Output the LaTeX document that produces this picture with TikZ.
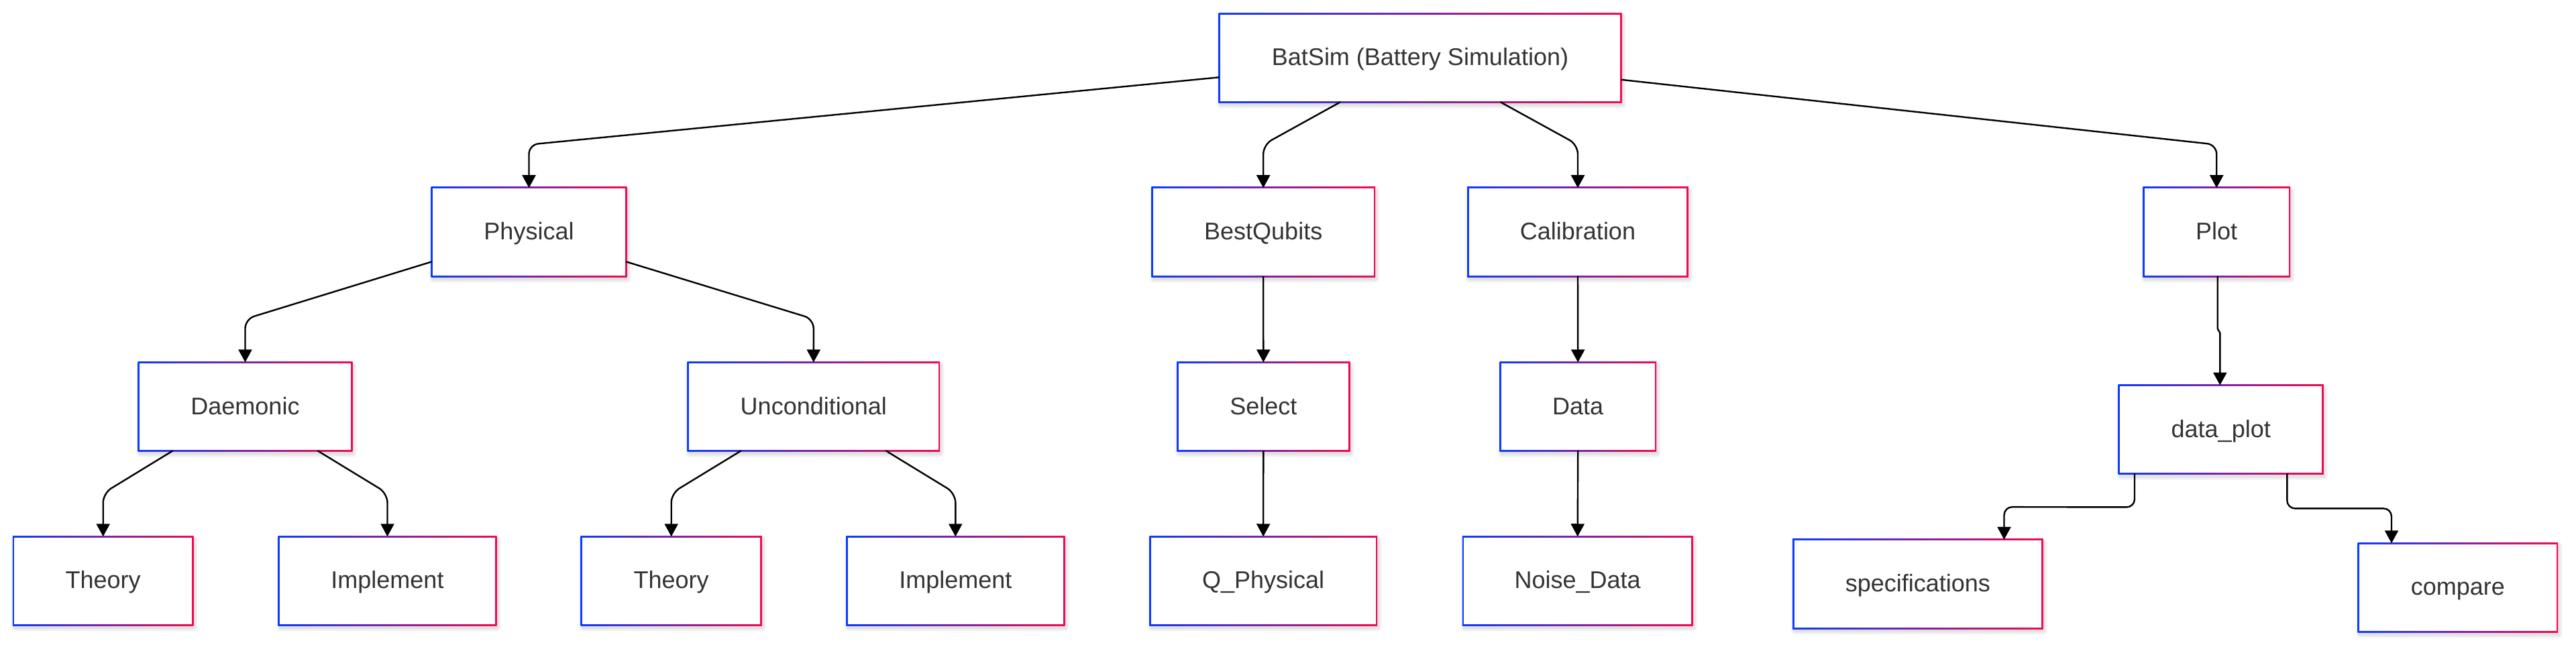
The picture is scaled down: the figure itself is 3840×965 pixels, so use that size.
\documentclass[tikz,border=0pt]{standalone}
\usepackage{fontspec}
\setmainfont{Liberation Sans}
\usetikzlibrary{arrows.meta,calc}
\definecolor{bl}{HTML}{0D3BFF}
\definecolor{rd}{HTML}{F20A50}
\definecolor{txt}{HTML}{333333}
\pgfdeclarelayer{bg}
\pgfsetlayers{bg,main}
\begin{document}
\begin{tikzpicture}[x=1pt,y=-1pt,
  box/.style={rectangle, inner sep=0pt, text=txt, font=\fontsize{36}{43}\selectfont,
    minimum height=131.5pt, text height=23.4pt, text depth=0pt},
  conn/.style={draw=black, line width=2.4pt, -{Triangle[length=19pt,width=20pt]}, rounded corners=14pt}]
\useasboundingbox (0,0) rectangle (3840,965);
% nodes
\node[box, minimum width=598pt]   (bat)  at (2117,86.3)   {BatSim (Battery Simulation)};
\node[box, minimum width=289pt]   (phy)  at (788.5,346.2) {Physical};
\node[box, minimum width=331pt]   (bq)   at (1883.2,346.2) {BestQubits};
\node[box, minimum width=327pt]   (cal)  at (2352,346.2)  {Calibration};
\node[box, minimum width=217pt]   (plot) at (3304.2,346.2) {Plot};
\node[box, minimum width=317pt]   (dae)  at (365.5,606.3) {Daemonic};
\node[box, minimum width=373.6pt] (unc)  at (1212.8,606.3) {Unconditional};
\node[box, minimum width=255pt]   (sel)  at (1883.3,606.3) {Select};
\node[box, minimum width=231pt]   (dat)  at (2352.2,606.3) {Data};
\node[box, minimum width=303.3pt] (dp)   at (3310.7,640.5) {data\_plot};
\node[box, minimum width=266.6pt] (th1)  at (153.7,866.2) {Theory};
\node[box, minimum width=323pt]   (im1)  at (577.5,866.2) {Implement};
\node[box, minimum width=267.3pt] (th2)  at (1000.7,866.2) {Theory};
\node[box, minimum width=323pt]   (im2)  at (1424.3,866.2) {Implement};
\node[box, minimum width=336.7pt] (qp)   at (1883.2,866.2) {Q\_Physical};
\node[box, minimum width=341pt]   (nd)   at (2351.7,866.2) {Noise\_Data};
\node[box, minimum width=370.5pt] (sp)   at (2858.8,870.8) {specifications};
\node[box, minimum width=295.5pt] (cmp)  at (3663.8,876.2) {compare};
% connectors
\draw[conn] (bat) -- ($(phy.north)+(0,-64.5)$) -- (phy.north);
\draw[conn] (bat) -- ($(bq.north)+(0,-64.5)$) -- (bq.north);
\draw[conn] (bat) -- ($(cal.north)+(0,-64.5)$) -- (cal.north);
\draw[conn] (bat) -- ($(plot.north)+(0,-64.5)$) -- (plot.north);
\draw[conn] (phy) -- ($(dae.north)+(0,-64.5)$) -- (dae.north);
\draw[conn] (phy) -- ($(unc.north)+(0,-64.5)$) -- (unc.north);
\draw[conn] (dae) -- ($(th1.north)+(0,-64.5)$) -- (th1.north);
\draw[conn] (dae) -- ($(im1.north)+(0,-64.5)$) -- (im1.north);
\draw[conn] (unc) -- ($(th2.north)+(0,-64.5)$) -- (th2.north);
\draw[conn] (unc) -- ($(im2.north)+(0,-64.5)$) -- (im2.north);
\draw[conn] (bq.south) -- (sel.north);
\draw[conn] (sel.south) -- (qp.north);
\draw[conn] (cal.south) -- (dat.north);
\draw[conn] (dat.south) -- (nd.north);
\draw[conn, rounded corners=2pt] ([xshift=1.5pt]plot.south) -- ($(plot.south)+(1.5,80)$) -- ($(dp.north)+(-1.4,-80)$) -- ([xshift=-1.4pt]dp.north);
\draw[conn, rounded corners=12pt] ([xshift=-128.7pt]dp.south) -- ($(dp.south)+(-128.7,50)$) -- ($(sp.north)+(128.7,-48.7)$) -- ([xshift=128.7pt]sp.north);
\draw[conn, rounded corners=12pt] ([xshift=98.6pt]dp.south) -- ($(dp.south)+(98.6,52)$) -- ($(cmp.north)+(-98.8,-51.9)$) -- ([xshift=-98.8pt]cmp.north);
% frames, shadows
\begin{pgfonlayer}{bg}
\fill[white] (0,0) rectangle (3840,965);
\foreach \n in {bat,phy,bq,cal,plot,dae,unc,sel,dat,dp,th1,im1,th2,im2,qp,nd,sp,cmp}{
  \foreach \i in {1,...,6}{
    \fill[black, opacity=0.02, rounded corners=\i pt] ($(\n.south west)+(2-\i,4+\i)$) rectangle ($(\n.north east)+(2+\i,4-\i)$);
  }
  \shade[left color=bl, right color=rd] ($(\n.south west)+(-1.25,1.25)$) rectangle ($(\n.north east)+(1.25,-1.25)$);
  \fill[white] ($(\n.south west)+(1.25,-1.25)$) rectangle ($(\n.north east)+(-1.25,1.25)$);
}
\end{pgfonlayer}
\end{tikzpicture}
\end{document}
